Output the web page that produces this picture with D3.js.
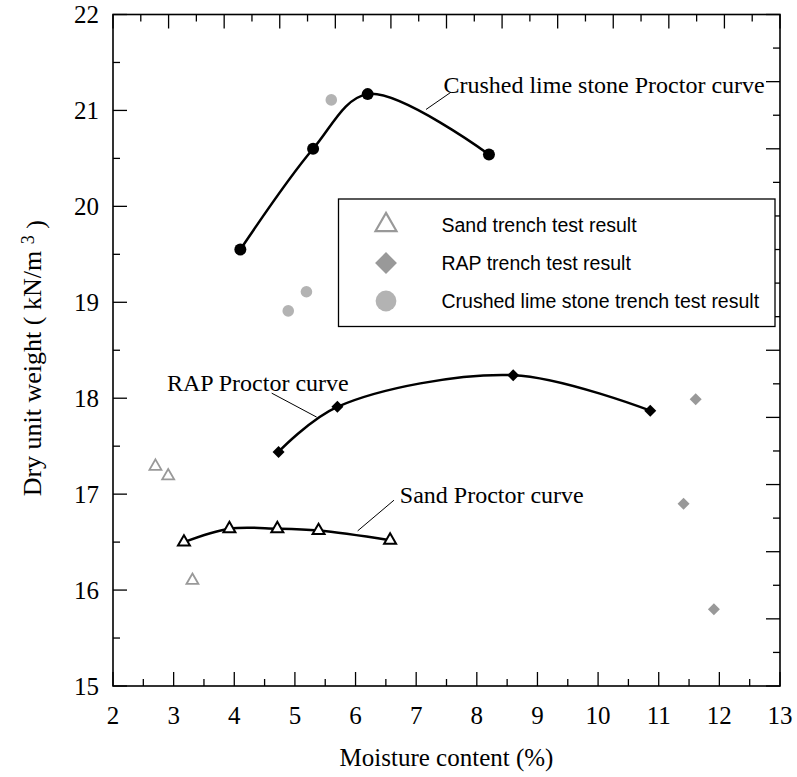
<!DOCTYPE html>
<html>
<head>
<meta charset="utf-8">
<script src="https://cdn.jsdelivr.net/npm/d3@7"></script>
<style>
  body { margin: 0; background: #fff; }
  svg { display: block; }
</style>
</head>
<body>
<div id="chart"></div>
<script>
// ---- data (moisture %, dry unit weight kN/m3) ----
var xTickValues = [2, 3, 4, 5, 6, 7, 8, 9, 10, 11, 12, 13];
var yTickValues = [15, 16, 17, 18, 19, 20, 21, 22];

var limeCurve = [[4.1, 19.55], [5.3, 20.6], [6.2, 21.17], [8.2, 20.54]];
var rapCurve = [[4.73, 17.44], [5.7, 17.91], [8.6, 18.24], [10.86, 17.87]];
var sandCurve = [[3.17, 16.5], [3.92, 16.64], [4.71, 16.64], [5.39, 16.62], [6.57, 16.52]];

var sandTrench = [[2.7, 17.29], [2.91, 17.19], [3.31, 16.1]];
var rapTrench = [[11.61, 17.99], [11.41, 16.9], [11.91, 15.8]];
var limeTrench = [[5.6, 21.11], [5.19, 19.11], [4.89, 18.91]];

var legendLabels = ["Sand trench test result", "RAP trench test result", "Crushed lime stone trench test result"];

// annotation: text, text anchor point, leader start, leader end (data units)
var notes = [
  {text: "Crushed lime stone Proctor curve", at: [7.45, 21.18], from: [7.574, 21.19], to: [7.162, 21.01]},
  {text: "RAP Proctor curve", at: [2.89, 18.07], from: [4.617, 18.053], to: [5.359, 17.803]},
  {text: "Sand Proctor curve", at: [6.73, 16.91], from: [6.634, 16.937], to: [6.035, 16.617]}
];

// ---- layout ----
var W = 797, H = 777;
var margin = {top: 14.5, right: 17, bottom: 91, left: 113};
var w = W - margin.left - margin.right,
    h = H - margin.top - margin.bottom;

var serif = "'Liberation Serif', 'Times New Roman', serif";
var sans = "'Liberation Sans', Arial, sans-serif";

var svg = d3.select("#chart").append("svg")
  .attr("width", W)
  .attr("height", H);

var g = svg.append("g")
  .attr("transform", "translate(" + margin.left + "," + margin.top + ")");

var x = d3.scaleLinear().domain([2, 13]).range([0, w]);
var y = d3.scaleLinear().domain([15, 22]).range([h, 0]);

// top and right frames use their own even divisions (24 and 20 steps)
var xTop = d3.scaleLinear().domain([0, 24]).range([0, w]);
var yRight = d3.scaleLinear().domain([0, 20]).range([h, 0]);

var major = 14, minor = 7;

// ---- ticks ----
var ticks = g.append("g").attr("stroke", "#000").attr("stroke-width", 1.3);

// bottom
d3.range(2, 13.01, 0.5).forEach(function(v) {
  var len = (v % 1 === 0) ? major : minor;
  ticks.append("line").attr("x1", x(v)).attr("x2", x(v)).attr("y1", h).attr("y2", h - len);
});
// left
d3.range(15, 22.01, 0.5).forEach(function(v) {
  var len = (v % 1 === 0) ? major : minor;
  ticks.append("line").attr("x1", 0).attr("x2", len).attr("y1", y(v)).attr("y2", y(v));
});
// top
d3.range(0, 25).forEach(function(i) {
  var len = (i % 2 === 0) ? major : minor;
  ticks.append("line").attr("x1", xTop(i)).attr("x2", xTop(i)).attr("y1", 0).attr("y2", len);
});
// right
d3.range(0, 21).forEach(function(i) {
  var len = (i % 2 === 0) ? major : minor;
  ticks.append("line").attr("x1", w).attr("x2", w - len).attr("y1", yRight(i)).attr("y2", yRight(i));
});

// frame
g.append("rect")
  .attr("width", w).attr("height", h)
  .attr("fill", "none").attr("stroke", "#000").attr("stroke-width", 1.6);

// tick labels
g.selectAll(".xlab").data(xTickValues).enter().append("text")
  .attr("class", "xlab")
  .attr("x", function(d) { return x(d); })
  .attr("y", h + 38)
  .attr("text-anchor", "middle")
  .style("font-family", serif).style("font-size", "25px")
  .text(function(d) { return d; });

g.selectAll(".ylab").data(yTickValues).enter().append("text")
  .attr("class", "ylab")
  .attr("x", -14)
  .attr("y", function(d) { return y(d); })
  .attr("dy", "0.35em")
  .attr("text-anchor", "end")
  .style("font-family", serif).style("font-size", "25px")
  .text(function(d) { return d; });

// axis titles
svg.append("text")
  .attr("x", margin.left + w / 2)
  .attr("y", H - 11)
  .attr("text-anchor", "middle")
  .style("font-family", serif).style("font-size", "25px")
  .text("Moisture content (%)");

var yTitle = svg.append("text")
  .attr("transform", "translate(41," + (margin.top + h / 2 + 8) + ") rotate(-90)")
  .attr("text-anchor", "middle")
  .style("font-family", serif).style("font-size", "26px");
yTitle.append("tspan").text("Dry unit weight ( kN/m ");
yTitle.append("tspan").attr("dy", "-0.4em").style("font-size", "18px").text("3");
yTitle.append("tspan").attr("dy", "0.4em").text(" )");

// ---- curves ----
var line = d3.line()
  .x(function(d) { return x(d[0]); })
  .y(function(d) { return y(d[1]); })
  .curve(d3.curveCatmullRom.alpha(0.5));

[limeCurve, rapCurve, sandCurve].forEach(function(c) {
  g.append("path")
    .attr("d", line(c))
    .attr("fill", "none")
    .attr("stroke", "#000")
    .attr("stroke-width", 2.5);
});

// ---- markers ----
var tri = d3.symbol().type(d3.symbolTriangle).size(62);
var dia = d3.symbol().type(d3.symbolSquare).size(72);

function pos(d) { return "translate(" + x(d[0]) + "," + y(d[1]) + ")"; }

g.selectAll(".limeDot").data(limeCurve).enter().append("circle")
  .attr("cx", function(d) { return x(d[0]); })
  .attr("cy", function(d) { return y(d[1]); })
  .attr("r", 6).attr("fill", "#000");

g.selectAll(".rapDot").data(rapCurve).enter().append("path")
  .attr("d", dia)
  .attr("transform", function(d) { return pos(d) + " rotate(45)"; })
  .attr("fill", "#000");

g.selectAll(".sandDot").data(sandCurve).enter().append("path")
  .attr("d", tri)
  .attr("transform", pos)
  .attr("fill", "#fff").attr("stroke", "#000").attr("stroke-width", 2);

g.selectAll(".sandTrench").data(sandTrench).enter().append("path")
  .attr("d", tri)
  .attr("transform", pos)
  .attr("fill", "#fff").attr("stroke", "#999").attr("stroke-width", 1.8);

g.selectAll(".rapTrench").data(rapTrench).enter().append("path")
  .attr("d", dia)
  .attr("transform", function(d) { return pos(d) + " rotate(45)"; })
  .attr("fill", "#999");

g.selectAll(".limeTrench").data(limeTrench).enter().append("circle")
  .attr("cx", function(d) { return x(d[0]); })
  .attr("cy", function(d) { return y(d[1]); })
  .attr("r", 5.8).attr("fill", "#b3b3b3");

// ---- annotations ----
notes.forEach(function(n) {
  g.append("line")
    .attr("x1", x(n.from[0])).attr("y1", y(n.from[1]))
    .attr("x2", x(n.to[0])).attr("y2", y(n.to[1]))
    .attr("stroke", "#000").attr("stroke-width", 1);
  g.append("text")
    .attr("x", x(n.at[0])).attr("y", y(n.at[1]))
    .style("font-family", serif).style("font-size", "24px")
    .text(n.text);
});

// ---- legend ----
var legend = svg.append("g").attr("transform", "translate(338.5,199)");
legend.append("rect")
  .attr("width", 436.5).attr("height", 127.5)
  .attr("fill", "#fff").attr("stroke", "#000").attr("stroke-width", 1.3);

var legendMarks = [
  d3.symbol().type(d3.symbolTriangle).size(190)(),
  d3.symbol().type(d3.symbolSquare).size(240)(),
  d3.symbol().type(d3.symbolCircle).size(340)()
];

legendLabels.forEach(function(lbl, i) {
  var row = legend.append("g").attr("transform", "translate(0," + (26 + i * 38) + ")");
  var m = row.append("path")
    .attr("d", legendMarks[i])
    .attr("transform", "translate(47.5,0)" + (i === 1 ? " rotate(45)" : ""));
  if (i === 0) m.attr("fill", "#fff").attr("stroke", "#999").attr("stroke-width", 2.2);
  else if (i === 1) m.attr("fill", "#999");
  else m.attr("fill", "#b3b3b3");
  row.append("text")
    .attr("x", 103).attr("dy", "0.35em")
    .style("font-family", sans).style("font-size", "19.5px")
    .text(lbl);
});
</script>
</body>
</html>
